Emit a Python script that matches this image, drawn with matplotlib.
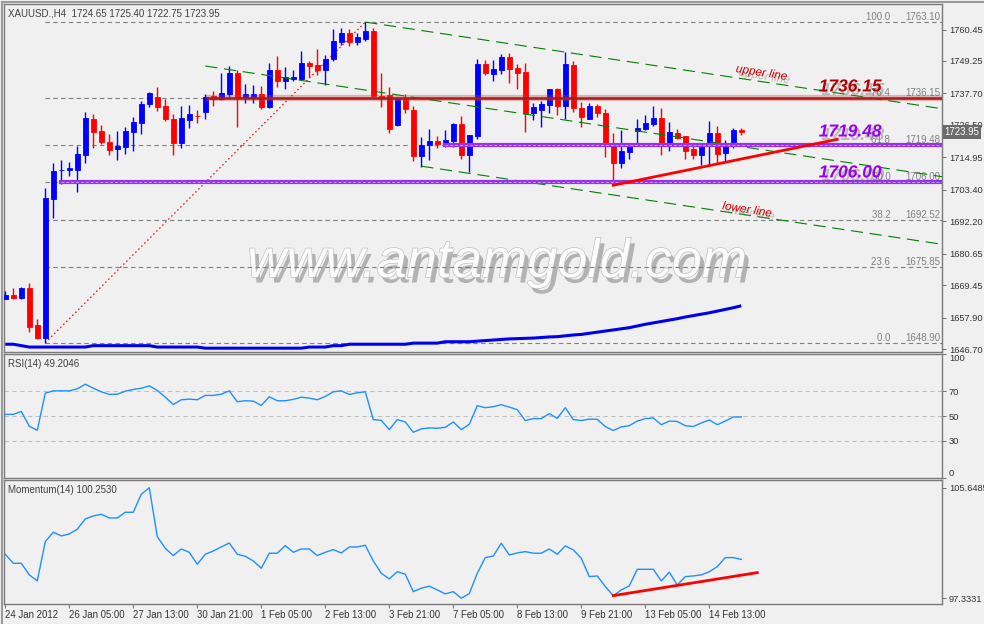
import numpy as np
import matplotlib
matplotlib.use('Agg')
import matplotlib.pyplot as plt
import matplotlib.patheffects as pe
from matplotlib.lines import Line2D

plt.rcParams['font.family'] = ['Liberation Sans', 'DejaVu Sans']

# ---- XAUUSD H4 candles ----
opens = [1664.6, 1665.9, 1665.0, 1668.4, 1655.3, 1650.7, 1700.1, 1710.3, 1710.6, 1710.5,
         1715.9, 1728.6, 1724.3, 1720.4, 1718.0, 1718.7, 1724.1, 1727.3, 1734.0, 1736.4,
         1733.2, 1728.6, 1720.0, 1728.2, 1729.8, 1731.2, 1736.8, 1735.6, 1737.5, 1744.9,
         1736.3, 1736.3, 1737.5, 1733.0, 1746.0, 1742.2, 1742.8, 1742.8, 1748.5, 1747.8,
         1746.0, 1750.0, 1756.0, 1759.1, 1756.0, 1757.2, 1759.9, 1736.8, 1737.0, 1726.5,
         1735.8, 1731.8, 1715.5, 1719.2, 1720.8, 1719.2, 1720.9, 1726.8, 1715.9, 1722.6,
         1748.2, 1744.6, 1746.0, 1750.8, 1746.9, 1745.4, 1730.8, 1731.8, 1733.6, 1739.3,
         1733.2, 1747.8, 1732.4, 1728.7, 1733.1, 1730.6, 1719.9, 1713.0, 1717.0, 1724.4,
         1725.0, 1726.8, 1729.0, 1719.7, 1723.6, 1722.5, 1717.8, 1715.8, 1719.7, 1723.7,
         1716.6, 1720.5, 1724.65]
highs = [1667.2, 1668.5, 1668.8, 1670.2, 1657.4, 1704.0, 1712.9, 1714.0, 1713.4, 1719.1,
         1731.1, 1730.4, 1726.5, 1723.2, 1724.3, 1725.7, 1729.3, 1735.0, 1738.3, 1740.0,
         1735.7, 1730.4, 1733.1, 1733.6, 1731.8, 1737.5, 1738.6, 1744.9, 1747.4, 1746.0,
         1741.0, 1740.8, 1740.4, 1748.5, 1751.0, 1747.2, 1746.0, 1752.8, 1749.2, 1753.5,
         1751.4, 1760.6, 1761.0, 1760.5, 1759.3, 1763.1, 1761.0, 1744.8, 1740.1, 1736.5,
         1737.5, 1733.2, 1722.3, 1725.0, 1722.5, 1724.6, 1727.3, 1729.6, 1723.0, 1750.0,
         1749.6, 1749.6, 1751.7, 1752.2, 1748.2, 1748.6, 1734.4, 1735.0, 1739.4, 1739.7,
         1752.5, 1749.2, 1734.7, 1734.3, 1733.8, 1732.0, 1723.5, 1724.6, 1720.2, 1728.6,
         1730.0, 1733.2, 1732.5, 1727.5, 1725.1, 1722.6, 1719.0, 1720.2, 1727.9, 1726.1,
         1721.1, 1725.5, 1725.40]
lows = [1664.4, 1664.6, 1664.4, 1652.9, 1650.2, 1648.9, 1693.3, 1705.6, 1708.4, 1702.6,
        1713.0, 1718.4, 1719.7, 1715.9, 1714.1, 1716.2, 1717.3, 1723.4, 1733.0, 1731.5,
        1728.0, 1715.9, 1718.4, 1725.5, 1727.3, 1728.7, 1733.2, 1735.4, 1736.3, 1725.8,
        1734.4, 1734.4, 1732.3, 1732.6, 1740.1, 1739.4, 1742.0, 1742.5, 1743.6, 1744.4,
        1740.7, 1749.2, 1754.8, 1754.7, 1754.9, 1756.5, 1736.3, 1733.0, 1723.7, 1726.1,
        1730.8, 1713.7, 1711.6, 1714.0, 1718.2, 1718.5, 1718.7, 1714.5, 1709.7, 1721.4,
        1744.4, 1742.1, 1744.6, 1741.3, 1739.3, 1724.1, 1728.2, 1725.8, 1730.6, 1729.9,
        1728.5, 1731.2, 1725.8, 1728.5, 1729.2, 1715.0, 1705.0, 1711.3, 1714.3, 1719.7,
        1724.7, 1726.1, 1715.8, 1717.3, 1721.4, 1714.2, 1714.5, 1712.2, 1712.1, 1713.0,
        1713.4, 1718.4, 1722.75]
closes = [1665.8, 1665.0, 1668.4, 1654.6, 1650.7, 1700.5, 1710.1, 1710.6, 1711.0, 1716.1,
          1728.9, 1724.1, 1720.5, 1717.7, 1719.1, 1724.3, 1727.5, 1733.9, 1737.9, 1733.0,
          1728.7, 1720.0, 1728.9, 1730.4, 1729.5, 1736.3, 1735.8, 1737.9, 1744.9, 1736.3,
          1737.5, 1737.5, 1733.0, 1746.0, 1742.2, 1743.6, 1743.5, 1748.5, 1747.6, 1746.0,
          1750.0, 1756.4, 1759.1, 1756.0, 1757.8, 1759.9, 1736.9, 1736.3, 1724.9, 1735.8,
          1732.0, 1715.5, 1719.2, 1720.8, 1719.7, 1721.1, 1726.8, 1715.8, 1722.9, 1748.2,
          1745.1, 1746.4, 1750.8, 1746.4, 1745.1, 1730.6, 1732.8, 1733.9, 1739.3, 1733.2,
          1748.2, 1732.4, 1729.4, 1733.1, 1730.8, 1719.9, 1713.0, 1717.1, 1719.5, 1725.4,
          1727.0, 1729.0, 1719.7, 1724.0, 1721.7, 1717.3, 1715.8, 1720.0, 1723.7, 1716.2,
          1720.0, 1724.6, 1723.95]

# long moving average (blue line at the bottom of the price panel)
ma_line = [1648.4, 1648.4, 1647.9, 1647.4, 1647.4, 1647.4, 1647.4, 1647.4, 1647.4, 1647.4,
           1647.4, 1647.9, 1647.9, 1647.9, 1647.9, 1647.9, 1647.9, 1647.9, 1647.9, 1647.4,
           1647.4, 1647.4, 1647.4, 1647.4, 1647.4, 1647.0, 1647.0, 1647.0, 1647.0, 1647.0,
           1647.0, 1647.0, 1647.0, 1647.0, 1647.0, 1647.0, 1647.0, 1647.0, 1647.4, 1647.4,
           1647.4, 1647.9, 1647.9, 1648.4, 1648.4, 1648.4, 1648.4, 1648.4, 1648.4, 1648.4,
           1648.4, 1648.8, 1648.8, 1648.8, 1648.8, 1649.3, 1649.3, 1649.3, 1649.3, 1649.5,
           1649.7, 1649.9, 1650.1, 1650.3, 1650.4, 1650.5, 1650.6, 1650.8, 1651.0, 1651.1,
           1651.4, 1651.7, 1651.9, 1652.3, 1652.7, 1653.1, 1653.5, 1653.9, 1654.3, 1654.9,
           1655.5, 1656.0, 1656.5, 1657.0, 1657.5, 1658.1, 1658.6, 1659.1, 1659.6, 1660.2,
           1660.8, 1661.4, 1662.1]

rsi = [51.3, 51.3, 53.7, 41.7, 38.5, 68.4, 70.3, 70.3, 70.3, 71.9,
       75.6, 72.4, 69.5, 67.4, 67.6, 70.0, 71.4, 72.4, 74.3, 70.6,
       65.2, 59.3, 63.1, 63.6, 63.1, 66.6, 66.6, 67.6, 70.3, 61.5,
       62.3, 62.0, 58.5, 65.5, 62.3, 62.3, 63.4, 65.2, 64.4, 63.1,
       65.8, 69.5, 70.3, 67.4, 68.7, 69.5, 47.1, 46.5, 39.0, 47.1,
       45.2, 36.9, 39.6, 40.4, 40.1, 40.9, 45.2, 39.0, 43.3, 58.3,
       56.7, 57.5, 59.1, 57.2, 55.1, 46.3, 47.9, 47.9, 51.9, 48.1,
       56.7, 47.1, 46.3, 47.5, 47.3, 41.5, 38.3, 41.2, 42.2, 45.9,
       47.9, 48.4, 43.0, 45.9, 45.6, 42.2, 41.5, 44.4, 46.8, 43.0,
       45.9, 49.2, 49.2046]

momentum = [100.64, 99.96, 99.96, 99.09, 98.64, 101.59, 102.30, 102.02, 102.17, 102.52,
            103.30, 103.52, 103.65, 103.37, 103.37, 103.80, 103.80, 105.15, 105.6485, 101.97,
            101.09, 100.54, 101.04, 100.79, 99.89, 100.64, 100.89, 101.19, 101.49, 100.64,
            100.49, 100.14, 99.59, 100.72, 100.72, 101.29, 100.79, 101.04, 101.04, 100.54,
            100.79, 100.99, 100.74, 101.19, 101.19, 101.32, 100.14, 99.21, 98.79, 99.33,
            99.14, 97.83, 98.09, 98.24, 97.96, 97.66, 97.83, 97.3331, 97.68, 99.21,
            100.39, 100.51, 101.47, 100.59, 100.74, 100.84, 100.72, 100.72, 101.04, 100.64,
            101.27, 100.97, 100.34, 98.96, 99.01, 98.21, 97.53, 97.96, 98.26, 99.51,
            99.51, 99.51, 98.64, 99.29, 98.33, 98.96, 99.01, 99.09, 99.33, 99.71,
            100.39, 100.39, 100.2530]

time_labels = ['24 Jan 2012', '26 Jan 05:00', '27 Jan 13:00', '30 Jan 21:00', '1 Feb 05:00',
               '2 Feb 13:00', '3 Feb 21:00', '7 Feb 05:00', '8 Feb 13:00', '9 Feb 21:00',
               '13 Feb 05:00', '14 Feb 13:00']
time_label_bars = [0, 8, 16, 24, 32, 40, 48, 56, 64, 72, 80, 88]

price_ticks = [1760.45, 1749.25, 1737.70, 1726.50, 1714.95, 1703.40, 1692.20, 1680.65,
               1669.45, 1657.90, 1646.70]

# fibonacci retracement from the 1648.90 low (bar 5) to the 1763.10 high (bar 45)
fib_bars = [5, 45]
fib_prices = [1648.90, 1763.10]
fib_levels = ['100.0', '76.4', '61.8', '50.0', '38.2', '23.6', '0.0']
fib_values = [1763.10, 1736.15, 1719.48, 1706.00, 1692.52, 1675.85, 1648.90]

# drawn levels
res_level, res_start = 1736.15, 25.5
sup_levels = [1719.48, 1706.00]
sup_starts = [55, 7]

# descending channel (start bar, start price, end bar, end price)
chan_start_bar = [45, 25, 52]
chan_start_price = [1763.10, 1747.45, 1711.80]
chan_end_bar = [117.1, 117.1, 117.1]
chan_end_price = [1732.24, 1708.05, 1683.98]

# rising support lines
trend_bars = [76, 104]
trend_prices = [1705.0, 1721.35]
mom_trend_bars = [76, 94]
mom_trend_vals = [97.53, 99.26]

last_price = 1723.95

BG = '#f0f0f0'
W, H = 984, 624
fig = plt.figure(figsize=(9.84, 6.24), dpi=100, facecolor=BG)


def rect(top, bottom, left=4, right=942):
    return [left / W, 1 - bottom / H, (right - left) / W, (bottom - top) / H]


ax = fig.add_axes(rect(4, 352))
ax_rsi = fig.add_axes(rect(354, 478))
ax_mom = fig.add_axes(rect(480, 604))

XLIM = (-0.16, 117.09)
for a in (ax, ax_rsi, ax_mom):
    a.set_facecolor(BG)
    a.set_xlim(*XLIM)
    for s in a.spines.values():
        s.set_color('#7a7a7a')
        s.set_linewidth(1.0)
    a.yaxis.tick_right()
    a.tick_params(axis='y', direction='out', length=3, width=0.7, colors='#707070',
                  labelcolor='#333333', labelsize=6.7, pad=2)
    a.tick_params(axis='x', bottom=False, labelbottom=False)

# ---- price panel ----
x = np.arange(len(opens))
o = np.array(opens)
c = np.array(closes)
cols = ['#0000ff' if cc >= oo else '#ff0000' for oo, cc in zip(o, c)]
ax.vlines(x, lows, highs, colors=cols, linewidth=1.0, zorder=3)
ax.bar(x, c - o, bottom=o, width=0.58, color=cols, edgecolor=cols, linewidth=0.6, zorder=3.1)

ax.plot(x, ma_line, color='#0000ee', linewidth=2.2, zorder=3, solid_capstyle='butt')

ax.set_ylim(1645.64, 1769.53)
ax.set_yticks(price_ticks)
ax.set_yticklabels([f'{v:.2f}' for v in price_ticks])

# fibonacci
for lvl, val in zip(fib_levels, fib_values):
    ax.plot([fib_bars[0], XLIM[1]], [val, val], color='#808080', linewidth=0.8,
            linestyle=(0, (4, 3)), zorder=2)
    ax.text(0.9478, val, lvl + ' ', transform=ax.get_yaxis_transform(), ha='right',
            va='bottom', fontsize=7, color='#808080', zorder=2)
    ax.text(0.998, val, f'{val:.2f}', transform=ax.get_yaxis_transform(), ha='right',
            va='bottom', fontsize=7, color='#808080', zorder=2)
ax.plot(fib_bars, fib_prices, color='#ff0000', linewidth=0.9, linestyle=(0, (1.2, 2.2)), zorder=2.5)

# channel
for sb, sp, eb, ep in zip(chan_start_bar, chan_start_price, chan_end_bar, chan_end_price):
    ax.plot([sb, eb], [sp, ep], color='#008000', linewidth=0.8, linestyle=(0, (11, 6)), zorder=4)

# horizontal levels
ax.plot([res_start, XLIM[1]], [res_level] * 2, color='#c04040', alpha=0.35, linewidth=4.5, zorder=4)
ax.plot([res_start, XLIM[1]], [res_level] * 2, color='#a51c1c', linewidth=1.8, zorder=4.1)
for lv, st in zip(sup_levels, sup_starts):
    ax.plot([st, XLIM[1]], [lv] * 2, color='#9a30f0', linewidth=3.0, zorder=4)
    ax.plot([st, XLIM[1]], [lv] * 2, color='#c79af7', linewidth=0.7,
            linestyle=(0, (3, 2)), zorder=4.1)

ax.plot(trend_bars, trend_prices, color='#ff0000', linewidth=2.0, zorder=4.2)

shadow = [pe.SimplePatchShadow(offset=(2, -2.5), shadow_rgbFace='#6a6a6a', alpha=0.4), pe.Normal()]
ax.text(105.6, 1740.0, '1736.15', color='#b30000', fontsize=12.5, fontweight='bold',
        fontstyle='italic', ha='center', va='center', zorder=6, path_effects=shadow)
ax.text(105.6, 1723.96, '1719.48', color='#9a00f0', fontsize=12.5, fontweight='bold',
        fontstyle='italic', ha='center', va='center', zorder=6, path_effects=shadow)
ax.text(105.6, 1709.4, '1706.00', color='#9a00f0', fontsize=12.5, fontweight='bold',
        fontstyle='italic', ha='center', va='center', zorder=6, path_effects=shadow)
ax.text(94.5, 1744.96, 'upper line', color='#d00000', fontsize=8.5, fontstyle='italic',
        ha='center', va='center', rotation=-9, zorder=6, path_effects=shadow)
ax.text(92.7, 1696.2, 'lower line', color='#d00000', fontsize=8.5, fontstyle='italic',
        ha='center', va='center', rotation=-9, zorder=6, path_effects=shadow)

# watermark
ax.text(497 / W, 1 - 277 / H, 'www.antamgold.com', transform=fig.transFigure, ha='center',
        va='baseline', fontsize=39, fontstyle='italic', color='#fbfbfb', zorder=1,
        path_effects=[pe.SimplePatchShadow(offset=(3, -4), shadow_rgbFace='#8a8a8a', alpha=0.6),
                      pe.Stroke(linewidth=0.9, foreground='#bcbcbc'), pe.Normal()])

# current price tag
ax.text(1.0 + 2.5 / 938, last_price, f'{last_price:.2f}', transform=ax.get_yaxis_transform(),
        ha='left', va='center', fontsize=6.9, color='white', clip_on=False, zorder=10,
        bbox=dict(boxstyle='square,pad=0.2', fc='#6b6b6b', ec='none'))

# ---- RSI panel ----
ax_rsi.set_ylim(0, 100)
for lv in (70, 50, 30):
    ax_rsi.axhline(lv, color='#c0c0c0', linewidth=0.8, linestyle=(0, (4, 3)), zorder=1)
ax_rsi.plot(x, rsi, color='#1e90ff', linewidth=1.0, zorder=3)
ax_rsi.set_yticks([100, 70, 50, 30, 0])
ax_rsi.set_yticklabels(['100', '70', '50', '30', '0'])
rl = ax_rsi.get_yticklabels()
rl[0].set_va('top')
rl[-1].set_va('bottom')

# ---- Momentum panel ----
ax_mom.set_ylim(96.90, 106.227)
ax_mom.plot(x, momentum, color='#1e90ff', linewidth=1.0, zorder=3)
ax_mom.plot(mom_trend_bars, mom_trend_vals, color='#ff0000', linewidth=2.0, zorder=4)
ax_mom.set_yticks([105.6485, 97.3331])
ax_mom.set_yticklabels(['105.6485', '97.3331'])
ax_mom.set_xticks(time_label_bars)
ax_mom.set_xticklabels(time_labels)
ax_mom.tick_params(axis='x', bottom=True, labelbottom=True, direction='out', length=3,
                   width=0.7, colors='#707070', labelcolor='#333333', labelsize=6.9, pad=1)
for lb in ax_mom.get_xticklabels():
    lb.set_ha('left')

# panel captions
txt = dict(fontsize=7, color='#404040', va='center', ha='left')
fig.text(8 / W, 1 - 13 / H, 'XAUUSD.,H4  1724.65 1725.40 1722.75 1723.95', **txt)
fig.text(8 / W, 1 - 364 / H, 'RSI(14) 49.2046', **txt)
fig.text(8 / W, 1 - 490 / H, 'Momentum(14) 100.2530', **txt)

# window frame
fig.add_artist(Line2D([1.5 / W, 1.5 / W], [0, 1 - 1.5 / H], color='#9a9a9a', linewidth=1.5))
fig.add_artist(Line2D([1.5 / W, 1], [1 - 1.5 / H, 1 - 1.5 / H], color='#9a9a9a', linewidth=1.5))

fig.savefig('out.png', dpi=100, facecolor=BG)
